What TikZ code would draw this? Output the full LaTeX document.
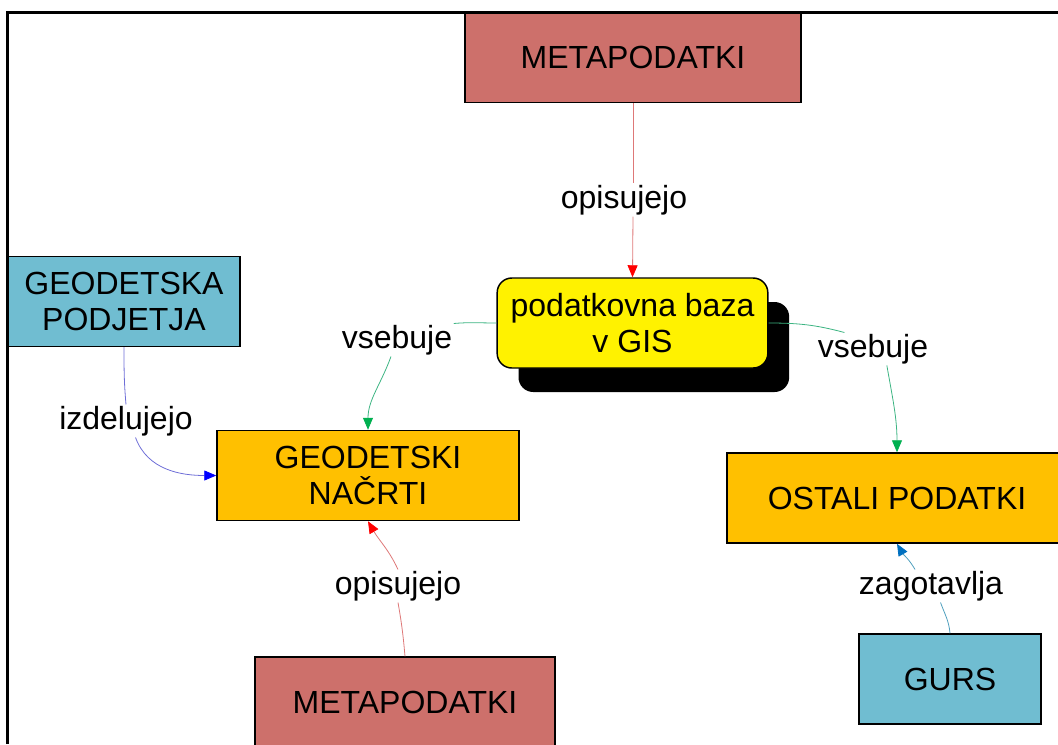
\documentclass[tikz,border=0pt]{standalone}
\usepackage{fontspec}
\setmainfont{Liberation Sans}
\usetikzlibrary{arrows.meta,shadows}
\definecolor{metaRed}{RGB}{205,112,107}
\definecolor{firmBlue}{RGB}{112,189,209}
\definecolor{planOrange}{RGB}{255,192,0}
\definecolor{opisLine}{RGB}{222,120,120}
\definecolor{vsebLine}{RGB}{60,180,130}
\definecolor{vsebTip}{RGB}{0,176,80}
\definecolor{izdLine}{RGB}{110,110,215}
\definecolor{gursLine}{RGB}{80,160,190}
\definecolor{gursTip}{RGB}{0,112,192}

\begin{document}
\begin{tikzpicture}[x=0.75pt,y=-0.75pt,
  font=\fontsize{24}{27.5}\selectfont,
  box/.style={rectangle,draw=black,line width=1.1pt,minimum height=67.5pt,
              align=center,inner sep=0pt},
  meta/.style={box,fill=metaRed,minimum width=252pt},
  firm/.style={box,fill=firmBlue},
  plan/.style={box,fill=planOrange},
  db/.style={box,fill=yellow,rounded corners=11pt,minimum width=203pt,
             drop shadow={shadow xshift=16pt,shadow yshift=-18pt,fill=black,opacity=1}},
  lbl/.style={inner sep=1pt},
  opis/.style={draw=opisLine,line width=0.6pt},
  vseb/.style={draw=vsebLine,line width=0.6pt},
  izd/.style={draw=izdLine,line width=0.6pt},
  zag/.style={draw=gursLine,line width=0.6pt},
  tip/.style={-{Triangle[length=9pt,width=7.5pt,color=#1]}}
]
  \useasboundingbox (0,0) rectangle (1058,744);
  \clip (0,0) rectangle (1058,744);
  % boxes
  \node[meta] (meta1) at (633,57.5) {METAPODATKI};
  \node[db] (baza) at (632.5,323) {podatkovna baza\\v GIS};
  \node[firm,minimum width=174pt] (geopod) at (124,301.5) {GEODETSKA\\PODJETJA};
  \node[plan,minimum width=226.5pt] (gnac) at (368,475.5) {GEODETSKI\\NAČRTI};
  \node[plan,minimum width=255pt] (ostali) at (897,498) {OSTALI PODATKI};
  \node[meta,minimum width=225pt] (meta2) at (405,702) {METAPODATKI};
  \node[firm,minimum width=136.5pt] (gurs) at (950,679) {GURS};
  % labels
  \node[lbl] (opis1) at (624,200) {opisujejo};
  \node[lbl] (vseb1) at (397,340) {vsebuje};
  \node[lbl] (vseb2) at (873,349) {vsebuje};
  \node[lbl] (izd1)  at (126,421) {izdelujejo};
  \node[lbl] (opis2) at (398,586) {opisujejo};
  \node[lbl] (zag1)  at (931,586) {zagotavlja};
  % connectors
  \draw[opis] (meta1.south) -- (meta1.south |- opis1.north);
  \draw[opis,tip=red] (meta1.south |- opis1.south) -- (baza.north);
  \draw[vseb] (baza.west) to[out=180,in=5] (vseb1.north east);
  \draw[vseb,tip=vsebTip] (vseb1.250) to[out=-110,in=90] (gnac.north);
  \draw[vseb] (baza.east) to[out=0,in=165] (vseb2.150);
  \draw[vseb,tip=vsebTip] (vseb2.310) to[out=-80,in=90] (ostali.north);
  \draw[izd] (geopod.south) to[out=-90,in=95] (izd1.north);
  \draw[izd,tip=blue] (izd1.300) to[out=-70,in=180] (gnac.west);
  \draw[opis] (meta2.north) to[out=95,in=-80] (opis2.south);
  \draw[opis,tip=red] (opis2.north) to[out=115,in=-60] (gnac.south);
  \draw[zag] (gurs.north) to[out=95,in=-70] (zag1.300);
  \draw[zag,tip=gursTip] (zag1.134) to[out=120,in=-60] (ostali.south);
  % frame
  \draw[line width=2.25pt] (7,744) -- (7,12) -- (1058,12);
\end{tikzpicture}
\end{document}
